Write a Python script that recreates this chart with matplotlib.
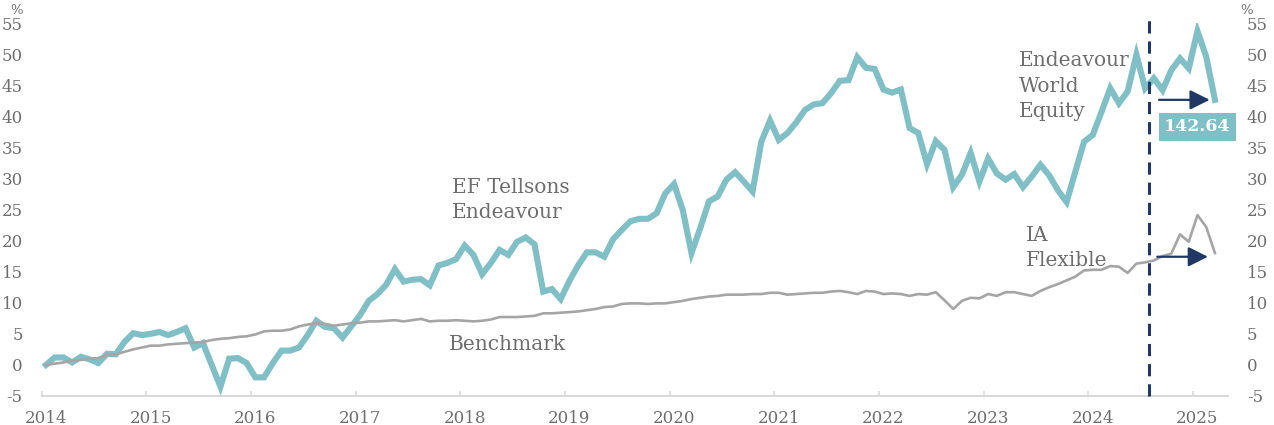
import matplotlib
matplotlib.use("Agg")
import matplotlib.pyplot as plt
import numpy as np

plt.rcParams['font.family'] = ['DejaVu Serif', 'DejaVu Sans']
plt.rcParams['axes.unicode_minus'] = False

# ---------------- data ----------------
years = list(range(2014, 2026))
y_ticks = list(range(-5, 60, 5))

fund = [
    0.0, 1.2, 1.2, 0.4, 1.3, 0.9, 0.3, 1.8, 1.7, 3.7, 5.1, 4.8,          # 2014
    5.0, 5.3, 4.8, 5.3, 5.9, 2.8, 3.5, 0.0, -3.5, 1.0, 1.1, 0.3,         # 2015
    -2.0, -2.0, 0.3, 2.3, 2.3, 2.8, 4.8, 7.1, 6.1, 5.9, 4.4, 6.2,        # 2016
    8.0, 10.3, 11.4, 12.9, 15.4, 13.4, 13.7, 13.8, 12.8, 16.0, 16.4, 17.0,  # 2017
    19.2, 17.7, 14.6, 16.4, 18.5, 17.7, 19.8, 20.5, 19.4, 11.8, 12.2, 10.6,  # 2018
    13.5, 16.0, 18.1, 18.1, 17.4, 20.2, 21.7, 23.1, 23.5, 23.5, 24.4, 27.6,  # 2019
    29.1, 24.9, 18.0, 22.0, 26.3, 27.1, 29.8, 31.0, 29.5, 27.9, 35.9, 39.3,  # 2020
    36.2, 37.3, 39.0, 41.0, 41.9, 42.1, 43.7, 45.7, 45.8, 49.5, 47.8, 47.6,  # 2021
    44.3, 43.8, 44.3, 38.1, 37.3, 32.3, 36.0, 34.6, 28.6, 30.6, 34.1, 29.5,  # 2022
    33.2, 30.8, 29.8, 30.7, 28.6, 30.3, 32.2, 30.5, 28.1, 26.2, 31.1, 35.9,  # 2023
    37.0, 40.7, 44.5, 42.1, 44.0, 49.9, 44.5, 46.1, 44.2, 47.4, 49.3, 47.7,  # 2024
    53.7, 49.6, 42.64,                                                      # 2025
]

benchmark = [
    0.0, 0.2, 0.4, 0.7, 0.8, 1.0, 1.1, 1.6, 1.7, 2.1, 2.5, 2.8,
    3.1, 3.1, 3.3, 3.4, 3.5, 3.6, 3.7, 4.0, 4.2, 4.3, 4.5, 4.6,
    4.9, 5.4, 5.5, 5.5, 5.7, 6.2, 6.5, 6.7, 6.6, 6.3, 6.5, 6.7,
    6.8, 7.0, 7.0, 7.1, 7.2, 7.0, 7.2, 7.4, 7.0, 7.1, 7.1, 7.2,
    7.1, 7.0, 7.1, 7.3, 7.7, 7.7, 7.7, 7.8, 7.9, 8.3, 8.3, 8.4,
    8.5, 8.6, 8.8, 9.0, 9.3, 9.4, 9.8, 9.9, 9.9, 9.8, 9.9, 9.9,
    10.1, 10.3, 10.6, 10.8, 11.0, 11.1, 11.3, 11.3, 11.3, 11.4, 11.4, 11.6,
    11.6, 11.3, 11.4, 11.5, 11.6, 11.6, 11.8, 11.9, 11.7, 11.4, 11.9, 11.8,
    11.4, 11.5, 11.4, 11.1, 11.4, 11.3, 11.7, 10.4, 9.0, 10.3, 10.8, 10.7,
    11.4, 11.1, 11.7, 11.7, 11.4, 11.1, 11.9, 12.5, 13.0, 13.6, 14.2, 15.2,
    15.3, 15.3, 15.9, 15.8, 14.8, 16.3, 16.5, 16.8, 17.5, 17.9, 21.0, 19.8,
    24.1, 22.2, 18.0,
]

fund_label = "EF Tellsons\nEndeavour"
bench_label = "Benchmark"
new_fund_label = "Endeavour\nWorld\nEquity"
new_bench_label = "IA\nFlexible"
last_value_text = "142.64"
change_month_index = 126   # dashed line drawn after this month (Jul 2024)
n_slots = 136              # monthly slots on the category axis

# ---------------- style ----------------
TEAL = "#7fbfc5"
GREY_LINE = "#a5a5a5"
NAVY = "#1f3864"
TXT = "#6e6e6e"
AXIS = "#d9d9d9"

W, H = 1274, 425
fig = plt.figure(figsize=(W / 100, H / 100), dpi=100)
ax = fig.add_axes([41.6 / W, 1 - 396 / H, (1228 - 41.6) / W, (396 - 23) / H])

x = np.arange(len(fund))
ax.plot(x, fund, color=TEAL, lw=4.4, solid_joinstyle='miter', zorder=3)
ax.plot(np.arange(len(benchmark)), benchmark, color=GREY_LINE, lw=1.9, zorder=4)

ax.set_xlim(-0.5, n_slots - 0.5)
ax.set_ylim(y_ticks[0], y_ticks[-1])

# x axis: ticks between categories, labels on January
year_idx = np.array([12 * (y - years[0]) for y in years])
ax.set_xticks(year_idx - 0.5)
ax.set_xticklabels([])
ax.set_xticks(year_idx, minor=True)
ax.set_xticklabels([str(y) for y in years], minor=True)
ax.tick_params(axis='x', which='major', direction='in', length=3.5, width=1.2, color=AXIS)
ax.tick_params(axis='x', which='minor', length=0, pad=10, labelsize=12, labelcolor=TXT)

ax.set_yticks(y_ticks)
ax.set_yticklabels([str(v) for v in y_ticks])
ax.tick_params(axis='y', left=False, right=False, labelleft=True, labelright=True,
               pad=10, labelsize=12, labelcolor=TXT)

for s in ['left', 'right', 'top']:
    ax.spines[s].set_visible(False)
ax.spines['bottom'].set_color(AXIS)
ax.spines['bottom'].set_linewidth(1.5)

# % markers
fig.text(17 / W, 1 - 10 / H, "%", ha='center', va='center', fontsize=9.5, color=TXT)
fig.text(1247 / W, 1 - 10 / H, "%", ha='center', va='center', fontsize=9.5, color=TXT)

# dashed vertical line
ax.axvline(change_month_index + 0.5, ymin=0, ymax=1.027, color=NAVY, lw=2.2,
           ls=(0, (4, 2.6)), clip_on=False, zorder=5)

# arrows toward the last values
arrow_kw = dict(arrowstyle="-|>,head_length=0.4,head_width=0.2", color=NAVY, lw=1.6,
                mutation_scale=30, shrinkA=0, shrinkB=0)
ax.annotate('', xy=(133.4, fund[-1]), xytext=(127.6, fund[-1]), arrowprops=arrow_kw, zorder=6)
ax.annotate('', xy=(133.2, benchmark[-1] - 0.6), xytext=(127.4, benchmark[-1] - 0.6),
            arrowprops=arrow_kw, zorder=6)

# value box
ax.text(131.96, 38.3, last_value_text, ha='center', va='center', fontsize=12.5,
        fontweight='bold', color='white', zorder=7,
        bbox=dict(boxstyle='square,pad=0.3', fc=TEAL, ec='none'))

# series labels (anchored on the last line's baseline)
lab_kw = dict(fontsize=14.5, color=TXT, linespacing=1.42, ha='left', va='baseline')
ax.text(46.5, 23.6, fund_label, **lab_kw)
ax.text(46.2, 2.4, bench_label, **lab_kw)
ax.text(111.5, 39.9, new_fund_label, **lab_kw)
ax.text(112.3, 15.9, new_bench_label, **lab_kw)

fig.savefig("out.png", dpi=100)
